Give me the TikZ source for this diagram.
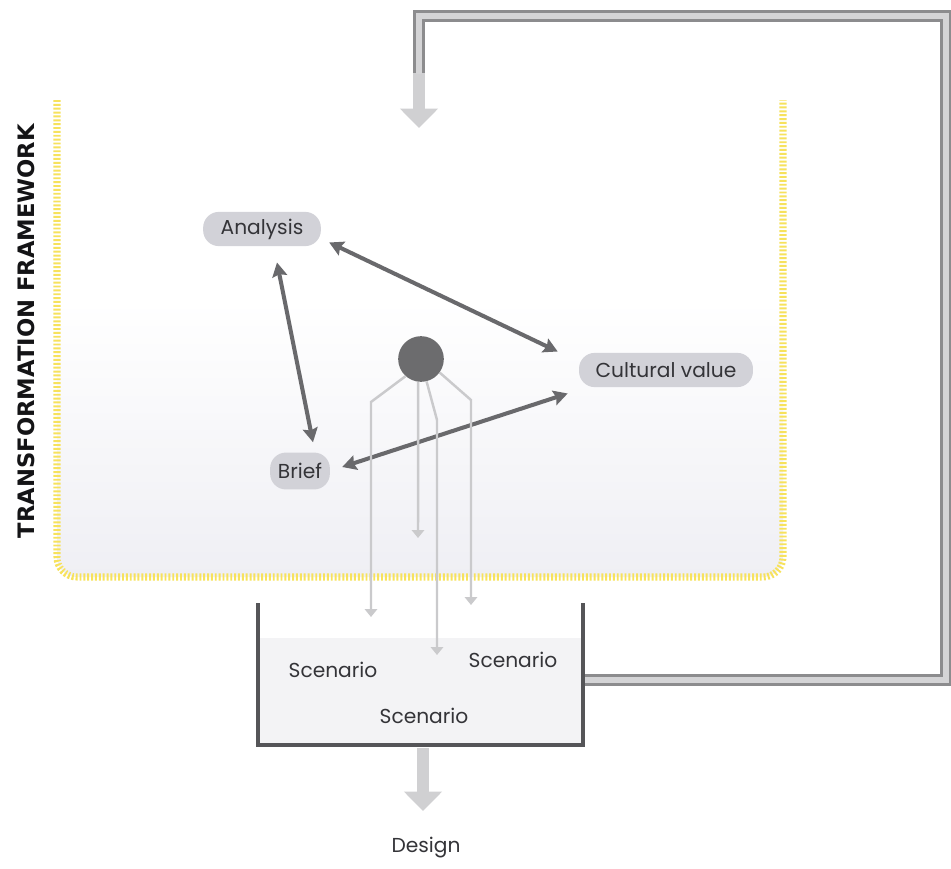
\documentclass[tikz,border=0pt]{standalone}
\usepackage{fontspec}
\setmainfont{Poppins}
\newfontfamily\titlefont{DejaVu Sans}
\usetikzlibrary{arrows.meta,calc}
\definecolor{frameyellow}{RGB}{247,226,92}
\definecolor{fillbot}{RGB}{239,239,244}
\definecolor{boxfill}{RGB}{210,210,216}
\definecolor{boxtext}{RGB}{52,52,56}
\definecolor{darkarrow}{RGB}{105,105,108}
\definecolor{thinline}{RGB}{202,202,204}
\definecolor{fatarrow}{RGB}{208,208,210}
\definecolor{pipeedge}{RGB}{140,140,142}
\definecolor{pipein}{RGB}{212,212,214}
\definecolor{bucketcol}{RGB}{85,85,88}
\definecolor{bucketfill}{RGB}{243,243,245}
\definecolor{dotcol}{RGB}{108,108,110}
\definecolor{titlecol}{RGB}{20,20,22}
\tikzset{
  labelbox/.style={rounded corners=9pt, fill=boxfill, text=boxtext, minimum height=19.5pt, inner xsep=0pt, font=\fontsize{11.5pt}{13pt}\selectfont},
  dbl/.style={draw=darkarrow, line width=2.3pt, {Stealth[length=8pt,width=8.5pt,inset=1.2pt]}-{Stealth[length=8pt,width=8.5pt,inset=1.2pt]}},
  thinarrow/.style={draw=thinline, line width=1.4pt, -{Triangle[length=4.5pt,width=7pt]}},
  fatarrowstyle/.style={draw=fatarrow, line width=6.5pt, -{Triangle[length=11pt,width=21pt]}},
  scen/.style={text=boxtext, font=\fontsize{11.5pt}{13pt}\selectfont},
}
\begin{document}
\begin{tikzpicture}[x=0.02cm, y=-0.02cm]
\useasboundingbox (0,0) rectangle (951,869);
\fill[white] (0,0) rectangle (951,869);
% framework interior: white top, soft grey towards the bottom
\begin{scope}
\clip[rounded corners=0.4cm] (57,100) -- (57,577) -- (783,577) -- (783,100) -- cycle;
\shade[top color=white, bottom color=fillbot] (57,300) rectangle (783,577);
\end{scope}
% yellow frame
\draw[frameyellow, line width=4pt, dash pattern=on 1.1pt off 1.1pt, rounded corners=0.4cm]
  (57,100) -- (57,577) -- (783,577) -- (783,100);
\node[rotate=90, text=titlecol, font=\titlefont\bfseries\fontsize{12.9pt}{15pt}\selectfont] (title) at (26,331) {TRANSFORMATION FRAMEWORK};
% bucket
\fill[bucketfill] (258,638) rectangle (583,745);
% feedback pipe
\coordinate (pipestart) at (585,680);
\coordinate (pipeend) at (419,73);
\coordinate (toptip) at (419,128);
\draw[fatarrowstyle] (pipeend) -- (toptip);
\draw[pipeedge, line width=6.4pt, line join=miter] (pipestart) -- (946,680) -- (946,16) -- (419,16) -- (pipeend);
\draw[pipein, line width=3.4pt, line join=miter] (pipestart) -- (946,680) -- (946,16) -- (419,16) -- ([yshift=-0.5]pipeend);
% nodes
\node[labelbox, minimum width=67pt] (an) at (262,229) {Analysis};
\node[labelbox, minimum width=99pt] (cv) at (666,370) {Cultural value};
\node[labelbox, minimum width=34pt, minimum height=21pt] (br) at (300,471) {Brief};
% double arrows
\draw[dbl] ([shift={(8,-4)}]an.south east) -- ([shift={(-21,-1)}]cv.north west);
\draw[dbl] ([shift={(15,16)}]an.south) -- ([shift={(13,-10)}]br.north);
\draw[dbl] ([shift={(12,-4)}]br.east) -- ([shift={(-11,6)}]cv.south west);
% central dot and its lines
\node[circle, fill=dotcol, minimum size=26pt, inner sep=0pt] (ci) at (421,359) {};
\coordinate (e1) at (371,617);
\coordinate (e2) at (418,538);
\coordinate (e3) at (437,655);
\coordinate (e4) at (471,605);
\draw[thinarrow] (ci.-132) -- (371,402) -- (e1);
\draw[thinarrow] (ci.-97) -- (e2);
\draw[thinarrow] (ci.-76) -- (437,420) -- (e3);
\draw[thinarrow] (ci.-36) -- (471,400) -- (e4);
% bucket walls
\draw[bucketcol, line width=2.8pt] (258,603) -- (258,745) -- (583,745) -- (583,603);
\node[scen] (s1) at (333,670) {Scenario};
\node[scen] (s2) at (513,660) {Scenario};
\node[scen] (s3) at (424,716) {Scenario};
% design
\coordinate (bk) at (423,748);
\node[scen] (design) at (426,848) {Design};
\coordinate (dtip) at (423,811);
\draw[fatarrowstyle] (bk) -- (dtip);
\end{tikzpicture}
\end{document}
